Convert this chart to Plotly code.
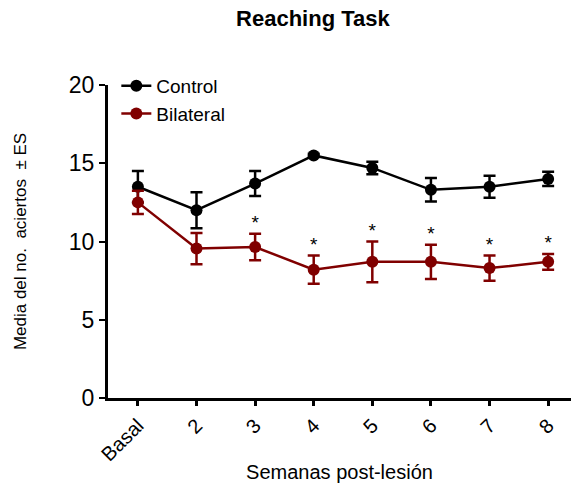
import plotly.graph_objects as go

categories = ["Basal", "2", "3", "4", "5", "6", "7", "8"]
control_mean = [13.5, 12.0, 13.7, 15.5, 14.7, 13.3, 13.5, 14.0]
control_se = [1.0, 1.15, 0.8, 0.1, 0.4, 0.75, 0.7, 0.45]
bilateral_mean = [12.5, 9.55, 9.65, 8.2, 8.7, 8.7, 8.3, 8.7]
bilateral_se = [0.75, 1.0, 0.85, 0.9, 1.3, 1.1, 0.8, 0.5]
significant = [False, False, True, True, True, True, True, True]

x = list(range(len(categories)))
FONT = "Liberation Sans, Arial, sans-serif"
RED = "#800000"

fig = go.Figure()
fig.add_trace(go.Scatter(
    x=x, y=control_mean, name="Control", mode="lines+markers",
    line=dict(color="black", width=2.5),
    marker=dict(color="black", size=12),
    error_y=dict(type="data", array=control_se, color="black", thickness=2.5, width=6),
    cliponaxis=False,
))
fig.add_trace(go.Scatter(
    x=x, y=bilateral_mean, name="Bilateral", mode="lines+markers",
    line=dict(color=RED, width=2.5),
    marker=dict(color=RED, size=12),
    error_y=dict(type="data", array=bilateral_se, color=RED, thickness=2.5, width=6),
    cliponaxis=False,
))
sx = [xi for xi, s in zip(x, significant) if s]
sy = [m + e for m, e, s in zip(bilateral_mean, bilateral_se, significant) if s]
fig.add_trace(go.Scatter(
    x=sx, y=sy, mode="text", text=["*"] * len(sx), textposition="top center",
    textfont=dict(size=19, color="black", family=FONT), showlegend=False,
    cliponaxis=False, hoverinfo="skip",
))

fig.update_layout(
    width=571, height=483,
    margin=dict(l=108, r=0, t=85, b=83),
    plot_bgcolor="white", paper_bgcolor="white",
    font=dict(family=FONT, color="black"),
    title=dict(text="<b>Reaching Task</b>", x=0.548, xanchor="center", y=0.962, yanchor="middle",
               font=dict(size=22, family=FONT)),
    legend=dict(x=0.018, y=1.058, xanchor="left", yanchor="top", font=dict(size=19),
                bgcolor="rgba(0,0,0,0)", itemwidth=30, tracegroupgap=0),
    showlegend=True,
)
fig.update_xaxes(
    range=[-0.51, 7.39], tickmode="array", tickvals=x, ticktext=categories,
    tickangle=-45, tickfont=dict(size=20), showline=True, linecolor="black", linewidth=3,
    ticks="outside", ticklen=5, tickwidth=3, tickcolor="black", showgrid=False, zeroline=False,
    title=dict(text="Semanas post-lesión", font=dict(size=20), standoff=4),
)
fig.update_yaxes(
    range=[0, 20], tickvals=[0, 5, 10, 15, 20], tickfont=dict(size=23),
    showline=True, linecolor="black", linewidth=3,
    ticks="outside", ticklen=6, tickwidth=2, tickcolor="black", showgrid=False, zeroline=False,
    title=dict(text="Media del no.  aciertos  ± ES", font=dict(size=17), standoff=38),
)
fig.write_html("out.html")
